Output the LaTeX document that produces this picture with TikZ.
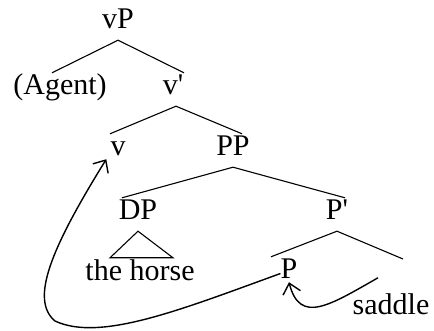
\documentclass[tikz,border=0pt]{standalone}
\usepackage{fontspec}
\setmainfont{Liberation Serif}
\usepackage{tikz}
\usetikzlibrary{arrows.meta}

\begin{document}
\begin{tikzpicture}[
    x=1pt,y=-1pt,
    lbl/.style={font=\fontsize{30}{35}\selectfont,inner sep=0pt,
                text height=22pt,text depth=11pt,anchor=base},
    br/.style={line width=1.1pt},
    mv/.style={-{Straight Barb[length=10pt,width=18pt]},line width=1.4pt},
  ]
    \useasboundingbox (0,0) rectangle (434,331);
    \node[lbl] (vP) at (118,29) {vP};
    \node[lbl] (Agent) at (60,95) {(Agent)};
    \node[lbl] (vbar) at (173,95) {v\textquotesingle};
    \node[lbl] (v) at (118,156) {v};
    \node[lbl] (PP) at (233,156) {PP};
    \node[lbl] (DP) at (138,220) {DP};
    \node[lbl] (Pbar) at (337,220) {P\textquotesingle};
    \node[lbl] (horse) at (140,280) {the horse};
    \node[lbl] (P) at (289,279) {P};
    \node[lbl] (saddle) at (391,315) {saddle};
    \coordinate (Pcomp) at (403,259);
    % branches
    \draw[br] ([xshift=-8pt]Agent.north) -- (vP.south) -- ([xshift=11pt]vbar.north);
    \draw[br] ([xshift=-8pt]v.north) -- ([xshift=3pt]vbar.south) -- ([xshift=9pt]PP.north);
    \draw[br] ([xshift=-16pt]DP.north) -- (PP.south) -- ([xshift=8pt]Pbar.north);
    \draw[br] (DP.south) -- ([xshift=-30pt]horse.north) -- ([xshift=33pt]horse.north) -- cycle;
    \draw[br] ([xshift=-18pt]P.north) -- (Pbar.south) -- (Pcomp);
    % movement
    \draw[mv] (P.west) .. controls (180,310) and (100,342) .. (55,321)
      .. controls (30,300) and (50,250) .. ([xshift=-4pt,yshift=8pt]v.south west);
    \draw[mv] ([xshift=-13pt,yshift=15pt]saddle.north) .. controls (330,305) and (300,325) .. ([yshift=8pt]P.south);
  \end{tikzpicture}
\end{document}
